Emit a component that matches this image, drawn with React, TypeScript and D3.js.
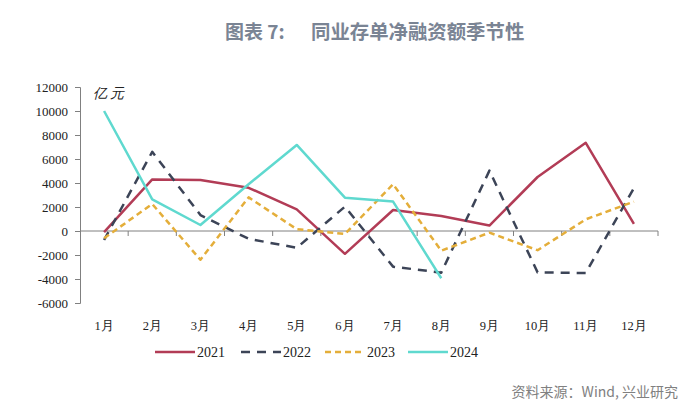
import React, { useRef, useEffect } from 'react';
import * as d3 from 'd3';

const months = ['1月', '2月', '3月', '4月', '5月', '6月', '7月', '8月', '9月', '10月', '11月', '12月'];
const y2021 = [-100, 4300, 4250, 3600, 1800, -1900, 1750, 1250, 450, 4500, 7350, 600];
const y2022 = [-750, 6600, 1330, -650, -1400, 2030, -2970, -3470, 5030, -3450, -3500, 3580];
const y2023 = [-600, 2250, -2400, 2800, 150, -250, 3900, -1640, -140, -1600, 970, 2450];
const y2024 = [10000, 2640, 500, 3900, 7170, 2780, 2450, -3940];
const yTicks = [-6000, -4000, -2000, 0, 2000, 4000, 6000, 8000, 10000, 12000];

const series = [
  { name: '2021', values: y2021, color: '#b23c56', dash: null, width: 2.5 },
  { name: '2022', values: y2022, color: '#3c4457', dash: '9,7', width: 2.5 },
  { name: '2023', values: y2023, color: '#e4ae3a', dash: '6,4', width: 2.5 },
  { name: '2024', values: y2024, color: '#5fd9cf', dash: null, width: 2.5 },
];

const serif = '"Liberation Serif", "DejaVu Serif", serif';
const sans = '"Noto Sans CJK SC", "Noto Sans", sans-serif';

const App = () => {
  const svgRef = useRef<SVGSVGElement>(null);

  useEffect(() => {
    const svg = d3.select(svgRef.current);
    svg.selectAll('*').remove();
    const width = 700;
    const height = 412;

    svg.append('rect').attr('width', width).attr('height', height).attr('fill', '#fff');

    const x = d3.scaleBand().domain(months).range([80, 658]);
    const y = d3.scaleLinear().domain([-6000, 12000]).range([303, 87]);

    // title
    svg.append('text')
      .attr('x', 225).attr('y', 39)
      .style('font-family', sans).style('font-size', '19px').style('font-weight', '700')
      .style('fill', '#7a8494')
      .text('图表 7:');
    svg.append('text')
      .attr('x', 311).attr('y', 39)
      .style('font-family', sans).style('font-size', '19.4px').style('font-weight', '700')
      .style('fill', '#7a8494')
      .text('同业存单净融资额季节性');

    // y axis
    const yAxis = d3.axisLeft(y).tickValues(yTicks).tickSize(5).tickFormat(d => String(d));
    const gy = svg.append('g').attr('transform', 'translate(80,0)').call(yAxis);
    gy.selectAll('path, line').attr('stroke', '#808080');
    gy.selectAll('text').style('font-family', serif).style('font-size', '13px').style('fill', '#222').attr('x', -12);

    // x axis at zero
    const y0 = y(0);
    svg.append('line').attr('x1', 80).attr('x2', 658).attr('y1', y0).attr('y2', y0).attr('stroke', '#808080');
    const bounds = months.map(m => (x(m) as number) + x.bandwidth());
    svg.selectAll('.xt').data(bounds).enter().append('line')
      .attr('x1', d => d).attr('x2', d => d).attr('y1', y0).attr('y2', y0 + 5)
      .attr('stroke', '#808080');
    svg.selectAll('.xl').data(months).enter().append('text')
      .attr('x', d => (x(d) as number) + x.bandwidth() / 2)
      .attr('y', 330)
      .attr('text-anchor', 'middle')
      .style('font-family', serif).style('font-size', '12.5px').style('fill', '#222')
      .text(d => d);

    svg.append('text').attr('x', 93).attr('y', 98)
      .style('font-family', serif).style('font-size', '14px').style('font-style', 'italic')
      .style('letter-spacing', '3px').style('fill', '#222')
      .text('亿元');

    const line = d3.line<number>()
      .x((_, i) => (x(months[i]) as number) + x.bandwidth() / 2)
      .y(d => y(d));

    series.forEach(s => {
      svg.append('path')
        .attr('d', line(s.values))
        .attr('fill', 'none')
        .attr('stroke', s.color)
        .attr('stroke-width', s.width)
        .attr('stroke-dasharray', s.dash)
        .attr('stroke-linejoin', 'round');
    });

    // legend
    const legendX = [155, 241, 325, 408];
    series.forEach((s, i) => {
      const lx = legendX[i];
      svg.append('line')
        .attr('x1', lx).attr('x2', lx + 40).attr('y1', 352).attr('y2', 352)
        .attr('stroke', s.color).attr('stroke-width', 2.5)
        .attr('stroke-dasharray', s.dash);
      svg.append('text').attr('x', lx + 42).attr('y', 357)
        .style('font-family', serif).style('font-size', '14px').style('fill', '#222')
        .text(s.name);
    });

    svg.append('text').attr('x', 678).attr('y', 397).attr('text-anchor', 'end')
      .style('font-family', sans).style('font-size', '14px').style('fill', '#808080')
      .text('资料来源：Wind, 兴业研究');
  }, []);

  return <svg ref={svgRef} width={700} height={412} style={{ position: 'absolute', left: 0, top: 0 }} />;
};

export default App;
